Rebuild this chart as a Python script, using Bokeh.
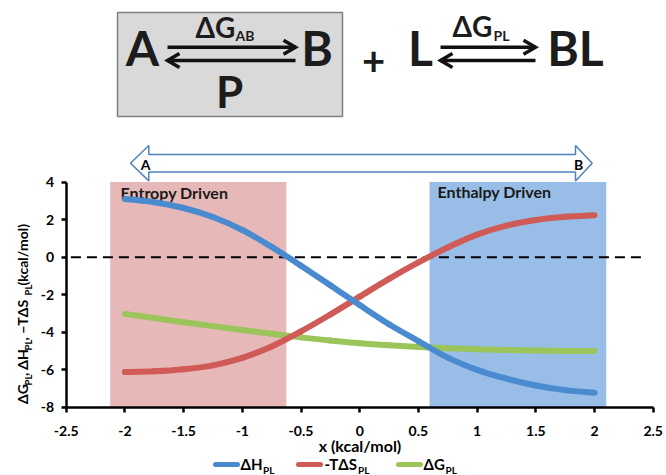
from bokeh.plotting import figure
from bokeh.models import Range1d, LinearAxis, FixedTicker, NumeralTickFormatter
from bokeh.core.properties import value
from bokeh.embed import file_html
from bokeh.resources import INLINE
import math

# ---------------- data ----------------
x_vals = [-2, -1.75, -1.5, -1.25, -1, -0.75, -0.5, -0.25, 0,
          0.25, 0.5, 0.75, 1, 1.25, 1.5, 1.75, 2]
dH_PL = [3.10, 2.93, 2.62, 2.14, 1.45, 0.55, -0.45, -1.50, -2.55,
         -3.57, -4.47, -5.35, -6.00, -6.47, -6.83, -7.08, -7.22]
mTdS_PL = [-6.12, -6.08, -5.97, -5.76, -5.36, -4.76, -3.95, -3.05, -2.10,
           -1.15, -0.28, 0.52, 1.20, 1.68, 1.98, 2.15, 2.24]
dG_PL = [-3.02, -3.24, -3.46, -3.67, -3.88, -4.08, -4.27, -4.44, -4.58,
         -4.69, -4.78, -4.85, -4.90, -4.94, -4.97, -4.99, -5.00]

x_ticks = [-2.5, -2, -1.5, -1, -0.5, 0, 0.5, 1, 1.5, 2, 2.5]
y_ticks = [-8, -6, -4, -2, 0, 2, 4]
x_limits = [-2.5, 2.5]
y_limits = [-8, 4]
entropy_region = [-2.125, -0.625]
enthalpy_region = [0.595, 2.1]
zero_line_x = [-2.46, 2.42]
region_labels = ["Entropy Driven", "Enthalpy Driven"]

# ------------- layout helpers (picture pixel -> data) -------------
AX_PX, AX_SCALE = 65.7, 117.4      # px of x=-2.5, px per unit
AY_PX, AY_SCALE = 256.7, 18.775    # px of y=0, px per unit
W, H = 666, 475


def fx(px):
    return (px - AX_PX) / AX_SCALE + x_limits[0]


def fy(py):
    return (AY_PX - py) / AY_SCALE


FONT = value("Lato")
BLUE, RED, GREEN = "#4A8BD0", "#D05A55", "#9BC55A"

p = figure(width=W, height=H, output_backend="svg", toolbar_location=None,
           x_range=Range1d(fx(0), fx(W)), y_range=Range1d(fy(H), fy(0)),
           x_axis_type=None, y_axis_type=None, min_border=0)
p.outline_line_color = None
p.background_fill_color = "white"
p.border_fill_color = "white"


def txt(xp, yp, s, size, align="left", angle=0.0, color="#1a1a1a"):
    p.text(x=[fx(xp)], y=[fy(yp)], text=[s], text_font=FONT, text_font_style="bold",
           text_font_size=f"{size}px", text_color=color, text_align=align,
           text_baseline="middle", angle=angle)


# ---------------- shaded regions ----------------
p.quad(left=[entropy_region[0]], right=[entropy_region[1]], bottom=[y_limits[0]], top=[y_limits[1]],
       fill_color="#E6B9B8", line_color=None)
p.quad(left=[enthalpy_region[0]], right=[enthalpy_region[1]], bottom=[y_limits[0]], top=[y_limits[1]],
       fill_color="#98BDE6", line_color=None)

txt(120, 191.5, region_labels[0], 16)
txt(437, 191.0, region_labels[1], 16)

# zero line
p.line(zero_line_x, [0, 0], line_color="black", line_width=2, line_dash="10 6")


# ---------------- curves (smoothed like a spreadsheet "smooth line") ----------------
def smooth_segments(xs, ys):
    n = len(xs)
    out = {k: [] for k in ("x0", "y0", "x1", "y1", "cx0", "cy0", "cx1", "cy1")}
    for i in range(n - 1):
        im, ip2 = max(i - 1, 0), min(i + 2, n - 1)
        out["x0"].append(xs[i]); out["y0"].append(ys[i])
        out["x1"].append(xs[i + 1]); out["y1"].append(ys[i + 1])
        out["cx0"].append(xs[i] + (xs[i + 1] - xs[im]) / 6)
        out["cy0"].append(ys[i] + (ys[i + 1] - ys[im]) / 6)
        out["cx1"].append(xs[i + 1] - (xs[ip2] - xs[i]) / 6)
        out["cy1"].append(ys[i + 1] - (ys[ip2] - ys[i]) / 6)
    return out


for ys, col in [(dG_PL, GREEN), (mTdS_PL, RED), (dH_PL, BLUE)]:
    p.bezier(**smooth_segments(x_vals, ys), line_color=col, line_width=6, line_cap="round")

# ---------------- axes ----------------
xaxis = LinearAxis(fixed_location=y_limits[0], bounds=tuple(x_limits),
                   ticker=FixedTicker(ticks=x_ticks),
                   formatter=NumeralTickFormatter(format="0.[0]"),
                   axis_label="x (kcal/mol)")
yaxis = LinearAxis(fixed_location=x_limits[0], bounds=tuple(y_limits),
                   ticker=FixedTicker(ticks=y_ticks),
                   formatter=NumeralTickFormatter(format="0"))
for ax in (xaxis, yaxis):
    ax.axis_line_color = "black"
    ax.axis_line_width = 2.5
    ax.major_tick_line_color = "black"
    ax.major_tick_line_width = 2.5
    ax.major_tick_out = 5
    ax.major_tick_in = 0
    ax.minor_tick_line_color = None
    ax.major_label_text_font = "Lato"
    ax.major_label_text_font_style = "bold"
    ax.major_label_text_font_size = "14px"
    ax.major_label_text_color = "black"
xaxis.major_label_standoff = 14
yaxis.major_label_standoff = 7
xaxis.axis_label_text_font = "Lato"
xaxis.axis_label_text_font_style = "bold"
xaxis.axis_label_text_font_size = "16px"
xaxis.axis_label_text_color = "black"
xaxis.axis_label_standoff = -4
p.add_layout(xaxis, "below")
p.add_layout(yaxis, "left")

# ---------------- y axis label (rotated, with subscripts) ----------------
A90 = math.pi / 2
yl_c, ys_c = 22.3, 27.5
txt(yl_c, 403.5, "ΔG", 14, angle=A90, color="black")
txt(ys_c, 385.0, "PL", 9.5, angle=A90, color="black")
txt(yl_c, 375.5, ", ΔH", 14, angle=A90, color="black")
txt(ys_c, 350.0, "PL", 9.5, angle=A90, color="black")
txt(yl_c, 340.0, ", −TΔS", 14, angle=A90, color="black")
txt(ys_c, 295.0, "PL", 9.5, angle=A90, color="black")
txt(yl_c, 285.0, "(kcal/mol)", 14, angle=A90, color="black")

# ---------------- legend ----------------
legend_items = [(BLUE, 215, "ΔH", 240, 262.5), (RED, 298, "-TΔS", 324, 357.5), (GREEN, 398, "ΔG", 423, 445.0)]
for col, lx, main, tx, sx in legend_items:
    p.line([fx(lx), fx(lx + 22)], [fy(464), fy(464)], line_color=col, line_width=5, line_cap="round")
    txt(tx, 463.0, main, 15, color="black")
    txt(sx, 469.5, "PL", 10, color="black")

# ---------------- A <-> B double arrow ----------------
arr_x = [130, 148.3, 148.3, 575, 575, 591.7, 575, 575, 148.3, 148.3]
arr_y = [162.7, 145, 154, 154, 145, 162.7, 180.4, 171.5, 171.5, 180.4]
p.patch([fx(v) for v in arr_x], [fy(v) for v in arr_y], fill_color="white",
        line_color="#4F81BD", line_width=1.5)
txt(145, 163.5, "A", 14, align="center", color="black")
txt(578, 163.5, "B", 14, align="center", color="black")

# ---------------- reaction scheme ----------------
p.quad(left=[fx(117)], right=[fx(342)], top=[fy(12)], bottom=[fy(116)],
       fill_color="#D9D9D9", line_color="#7F7F7F", line_width=1.5)


def eq_arrows(x0, x1, ytop, ybot):
    xs = [[fx(x0), fx(x1)], [fx(x1 - 12), fx(x1), fx(x1 - 12)],
          [fx(x0), fx(x1)], [fx(x0 + 12), fx(x0), fx(x0 + 12)]]
    ys = [[fy(ytop), fy(ytop)], [fy(ytop - 7), fy(ytop), fy(ytop + 7)],
          [fy(ybot), fy(ybot)], [fy(ybot - 7), fy(ybot), fy(ybot + 7)]]
    p.multi_line(xs, ys, line_color="#111111", line_width=3.5, line_join="miter")


eq_arrows(167, 295, 46.7, 60)
eq_arrows(440, 535, 46.7, 60)

DK = "#1c1c1c"
txt(142, 47, "A", 48, align="center", color=DK)
txt(316.5, 47, "B", 48, align="center", color=DK)
txt(229, 90.5, "P", 44, align="center", color=DK)
txt(195, 26.0, "ΔG", 28, color=DK)
txt(235, 35.0, "AB", 14, color=DK)
txt(373, 59.5, "+", 40, align="center", color=DK)
txt(420, 47, "L", 48, align="center", color=DK)
txt(452, 25.0, "ΔG", 28, color=DK)
txt(493, 35.0, "PL", 14, color=DK)
txt(575, 47, "BL", 48, align="center", color=DK)

open("out.html", "w").write(file_html(p, INLINE))
